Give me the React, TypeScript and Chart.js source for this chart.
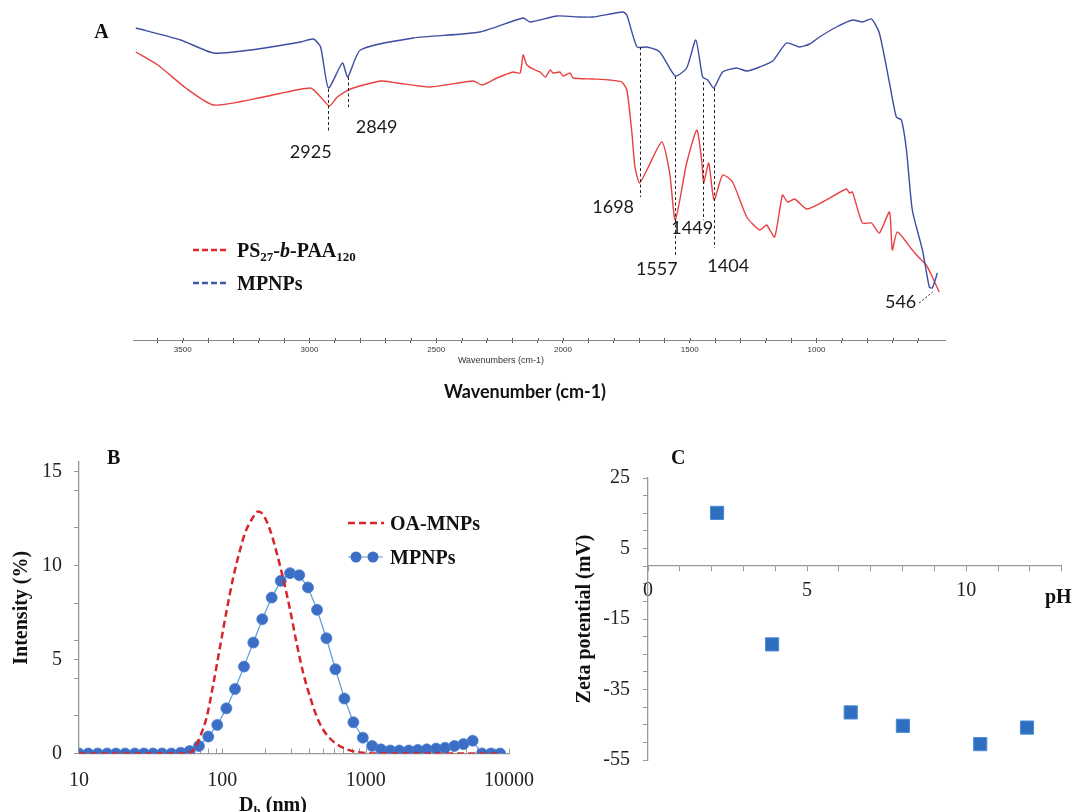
import React, { useEffect, useRef } from 'react';
import { Chart, registerables } from 'chart.js';

Chart.register(...registerables);

// ---------------- Panel A: FTIR spectra ----------------
const ftirMpnpWavenumber = [3685, 3508, 3378, 3232, 3035, 2984, 2956, 2925, 2870, 2849, 2799, 2590, 2327, 2157, 2130, 2023, 1933, 1882, 1764, 1748, 1708, 1669, 1618, 1557, 1512, 1476, 1449, 1429, 1405, 1370, 1315, 1275, 1224, 1173, 1118, 1067, 1027, 988, 921, 858, 819, 783, 752, 712, 685, 665, 645, 622, 582, 555, 543, 523];
const ftirMpnpTransmittance = [312, 300, 287, 290, 298, 301, 293, 252, 277, 263, 290, 302, 308, 322, 318, 324, 323, 323, 328, 325, 293, 293, 288, 264, 272, 300, 263, 260, 252, 268, 272, 269, 273, 279, 297, 293, 296, 303, 313, 320, 318, 321, 307, 257, 223, 220, 190, 130, 90, 53, 52, 67];

const ftirPolymerWavenumber = [3685, 3598, 3488, 3378, 3181, 2996, 2956, 2921, 2890, 2838, 2720, 2653, 2523, 2354, 2319, 2260, 2197, 2169, 2157, 2142, 2110, 2090, 2070, 2050, 2039, 2012, 2000, 1972, 1960, 1882, 1815, 1768, 1748, 1728, 1716, 1698, 1669, 1610, 1579, 1557, 1512, 1472, 1453, 1445, 1425, 1404, 1370, 1331, 1275, 1224, 1197, 1165, 1134, 1114, 1086, 1039, 976, 882, 870, 858, 819, 783, 752, 712, 701, 681, 622, 594, 567, 543, 516];
const ftirPolymerTransmittance = [288, 275, 252, 235, 243, 252, 243, 234, 243, 251, 259, 257, 253, 259, 255, 262, 268, 267, 285, 275, 270, 268, 263, 270, 267, 268, 264, 267, 262, 261, 260, 258, 250, 207, 173, 157, 170, 198, 167, 120, 177, 210, 180, 157, 177, 140, 165, 158, 123, 110, 115, 103, 145, 138, 141, 131, 138, 151, 147, 148, 117, 117, 107, 128, 90, 108, 90, 82, 75, 63, 48];

const ftirTickLabels = [3500, 3000, 2500, 2000, 1500, 1000];
const ftirPeakWavenumbers = [2925, 2849, 1698, 1557, 1449, 1404];
const ftirPeakLabels = ['2925', '2849', '1698', '1557', '1449', '1404'];
const ftirLeaderLabel = '546';

// ---------------- Panel B: DLS ----------------
const dlsMpnpSize = [10, 11.6, 13.5, 15.7, 18.1, 21, 24.5, 28.3, 32.8, 37.9, 44.1, 51.2, 59.1, 68.7, 79.8, 92.2, 106.7, 122.6, 141.6, 164.5, 190, 221, 255.6, 296.6, 344, 396, 458, 532, 615, 711, 821, 955, 1109, 1280, 1487, 1718, 1998, 2310, 2670, 3100, 3580, 4160, 4810, 5580, 6480, 7500, 8670];
const dlsMpnpIntensity = [0, 0, 0, 0, 0, 0, 0, 0, 0, 0, 0, 0.04, 0.13, 0.4, 0.9, 1.52, 2.4, 3.43, 4.62, 5.9, 7.14, 8.29, 9.18, 9.59, 9.48, 8.83, 7.64, 6.13, 4.48, 2.92, 1.66, 0.84, 0.4, 0.22, 0.16, 0.16, 0.16, 0.19, 0.22, 0.26, 0.3, 0.4, 0.5, 0.68, 0, 0, 0];

const dlsOaSize = [10, 30, 56, 62.8, 70, 77.9, 86.7, 96.4, 107.4, 119.5, 133, 144, 160, 178, 193, 215, 240, 267, 297, 330, 367, 409, 456, 507, 596, 738, 914, 1194, 3000, 8670];
const dlsOaIntensity = [0, 0, 0, 0.19, 0.9, 1.96, 3.73, 5.68, 7.64, 9.41, 10.83, 11.72, 12.43, 12.87, 12.69, 11.9, 10.65, 9.23, 7.64, 5.86, 4.27, 3.02, 1.96, 1.25, 0.63, 0.22, 0.06, 0, 0, 0];

const dlsTickLabels = [10, 100, 1000, 10000];

// ---------------- Panel C: Zeta potential ----------------
const zetaPH = [2.17, 3.9, 6.37, 8.01, 10.44, 11.91];
const zetaPotential = [15.1, -22.2, -41.5, -45.3, -50.5, -45.8];
const zetaXTickLabels = [0, 5, 10];
const zetaYTickLabels = [25, 5, -15, -35, -55];

// ---------------- helpers ----------------
type Seg = { t: string; sub?: boolean; it?: boolean };

function drawRich(
  ctx: CanvasRenderingContext2D,
  segs: Seg[],
  x: number,
  baseline: number,
  size: number,
  family: string,
  bold: boolean,
  align: 'left' | 'center' = 'left'
) {
  const fontFor = (s: Seg) =>
    `${s.it ? 'italic ' : ''}${bold ? 'bold ' : ''}${s.sub ? Math.round(size * 0.65) : size}px ${family}`;
  let total = 0;
  for (const s of segs) {
    ctx.font = fontFor(s);
    total += ctx.measureText(s.t).width;
  }
  let cx = align === 'center' ? x - total / 2 : x;
  ctx.textAlign = 'left';
  ctx.textBaseline = 'alphabetic';
  for (const s of segs) {
    ctx.font = fontFor(s);
    ctx.fillText(s.t, cx, s.sub ? baseline + size * 0.22 : baseline);
    cx += ctx.measureText(s.t).width;
  }
}

const SERIF = '"Liberation Serif", "Times New Roman", serif';
const SANS = '"Liberation Sans", Arial, sans-serif';

// annotation layout for panel A (in data units: wavenumber / transmittance)
const peakLayout = [
  { top: 251, bottom: 208, lx: 2995, ly: 188 },
  { top: 263, bottom: 233, lx: 2735, ly: 213 },
  { top: 293, bottom: 143, lx: 1802, ly: 133 },
  { top: 264, bottom: 85, lx: 1630, ly: 71 },
  { top: 258, bottom: 120, lx: 1490, ly: 112 },
  { top: 252, bottom: 92, lx: 1348, ly: 74 },
];

function buildA(): any {
  const minorTicks = Array.from({ length: 31 }, (_, i) => 600 + i * 100);
  const overlay = {
    id: 'ftirOverlay',
    afterDatasetsDraw(chart: any) {
      const { ctx } = chart;
      const x = chart.scales.x;
      const y = chart.scales.y;
      ctx.save();
      // small tick marks crossing the axis line (upper half)
      ctx.strokeStyle = '#555';
      ctx.lineWidth = 1;
      for (const v of minorTicks) {
        const px = Math.round(x.getPixelForValue(v)) + 0.5;
        ctx.beginPath();
        ctx.moveTo(px, chart.chartArea.bottom);
        ctx.lineTo(px, chart.chartArea.bottom - 2);
        ctx.stroke();
      }
      ctx.strokeStyle = '#222';
      ctx.setLineDash([3, 2.5]);
      ftirPeakWavenumbers.forEach((wn, i) => {
        const L = peakLayout[i];
        const px = Math.round(x.getPixelForValue(wn)) + 0.5;
        ctx.beginPath();
        ctx.moveTo(px, y.getPixelForValue(L.top));
        ctx.lineTo(px, y.getPixelForValue(L.bottom));
        ctx.stroke();
      });
      ctx.setLineDash([2, 2]);
      ctx.beginPath();
      ctx.moveTo(x.getPixelForValue(595), y.getPixelForValue(37));
      ctx.lineTo(x.getPixelForValue(542), y.getPixelForValue(48));
      ctx.stroke();
      ctx.setLineDash([]);

      ctx.fillStyle = '#1a1a1a';
      ctx.font = '18px Lato, "Open Sans", sans-serif';
      ctx.textAlign = 'center';
      ctx.textBaseline = 'middle';
      ftirPeakLabels.forEach((lab, i) => {
        const L = peakLayout[i];
        ctx.fillText(lab, x.getPixelForValue(L.lx), y.getPixelForValue(L.ly));
      });
      ctx.fillText(ftirLeaderLabel, x.getPixelForValue(668), y.getPixelForValue(38));

      // panel letter
      ctx.font = `bold 20px ${SERIF}`;
      ctx.fillStyle = '#111';
      ctx.fillText('A', 101.5, 33);

      // legend
      ctx.lineWidth = 2.5;
      ctx.setLineDash([6, 3]);
      ctx.strokeStyle = '#e0262c';
      ctx.beginPath();
      ctx.moveTo(193, 250);
      ctx.lineTo(229, 250);
      ctx.stroke();
      ctx.strokeStyle = '#3b5ba8';
      ctx.beginPath();
      ctx.moveTo(193, 283);
      ctx.lineTo(229, 283);
      ctx.stroke();
      ctx.setLineDash([]);
      ctx.fillStyle = '#111';
      drawRich(ctx, [{ t: 'PS' }, { t: '27', sub: true }, { t: '-' }, { t: 'b', it: true }, { t: '-PAA' }, { t: '120', sub: true }], 237, 257, 20, SERIF, true);
      drawRich(ctx, [{ t: 'MPNPs' }], 237, 290, 20, SERIF, true);

      // axis titles
      ctx.fillStyle = '#333';
      ctx.font = `9px ${SANS}`;
      ctx.textAlign = 'center';
      ctx.textBaseline = 'middle';
      ctx.fillText('Wavenumbers (cm-1)', 501, 361);
      ctx.fillStyle = '#111';
      ctx.font = 'bold 18px Lato, "Open Sans", sans-serif';
      ctx.fillText('Wavenumber (cm-1)', 525, 392);
      ctx.restore();
    },
  };
  return {
    type: 'line',
    data: {
      datasets: [
        {
          label: 'MPNPs',
          data: ftirMpnpWavenumber.map((w, i) => ({ x: w, y: ftirMpnpTransmittance[i] })),
          borderColor: '#3d4da3',
          borderWidth: 1.4,
          pointRadius: 0,
          tension: 0.2,
        },
        {
          label: 'PS27-b-PAA120',
          data: ftirPolymerWavenumber.map((w, i) => ({ x: w, y: ftirPolymerTransmittance[i] })),
          borderColor: '#e8413f',
          borderWidth: 1.4,
          pointRadius: 0,
          tension: 0.2,
        },
      ],
    },
    options: {
      responsive: false,
      animation: false,
      events: [],
      layout: { padding: { left: 133, right: 127, top: 0, bottom: 47 } },
      plugins: { legend: { display: false }, tooltip: { enabled: false } },
      scales: {
        x: {
          type: 'linear',
          reverse: true,
          min: 493,
          max: 3696,
          afterBuildTicks: (s: any) => {
            s.ticks = minorTicks.map((v) => ({ value: v }));
          },
          afterFit: (s: any) => {
            s.height = 23;
            s.paddingLeft = 0;
            s.paddingRight = 0;
          },
          ticks: {
            autoSkip: false,
            maxRotation: 0,
            padding: 2,
            color: '#333',
            font: { family: SANS, size: 8 },
            callback: (v: any) => (ftirTickLabels.includes(v) ? String(v) : ''),
          },
          grid: { drawOnChartArea: false, tickLength: 3, color: '#555' },
          border: { color: '#888' },
        },
        y: { display: false, min: 0, max: 340 },
      },
    },
    plugins: [overlay],
  };
}

function buildB(): any {
  const allTicks: number[] = [];
  for (const d of [10, 100, 1000]) for (let k = 1; k <= 9; k++) allTicks.push(d * k);
  allTicks.push(10000);
  const overlay = {
    id: 'dlsOverlay',
    beforeDatasetsDraw(chart: any) {
      const { ctx, chartArea } = chart;
      const x = chart.scales.x;
      ctx.save();
      ctx.strokeStyle = '#999';
      ctx.lineWidth = 1;
      for (const v of allTicks) {
        const px = Math.round(x.getPixelForValue(v)) + 0.5;
        ctx.beginPath();
        ctx.moveTo(px, chartArea.bottom);
        ctx.lineTo(px, chartArea.bottom - 5);
        ctx.stroke();
      }
      ctx.restore();
    },
    afterDraw(chart: any) {
      const { ctx } = chart;
      ctx.save();
      // legend
      ctx.strokeStyle = '#d7262b';
      ctx.lineWidth = 2.5;
      ctx.setLineDash([7, 4]);
      ctx.beginPath();
      ctx.moveTo(348, 103);
      ctx.lineTo(384, 103);
      ctx.stroke();
      ctx.setLineDash([]);
      ctx.strokeStyle = '#5b9bd5';
      ctx.lineWidth = 1.2;
      ctx.beginPath();
      ctx.moveTo(348, 137);
      ctx.lineTo(383, 137);
      ctx.stroke();
      ctx.fillStyle = '#3c6ec5';
      for (const cx of [356, 373]) {
        ctx.beginPath();
        ctx.arc(cx, 137, 5.5, 0, Math.PI * 2);
        ctx.fill();
      }
      ctx.fillStyle = '#111';
      drawRich(ctx, [{ t: 'OA-MNPs' }], 390, 110, 20, SERIF, true);
      drawRich(ctx, [{ t: 'MPNPs' }], 390, 144, 20, SERIF, true);
      drawRich(ctx, [{ t: 'B' }], 107, 44, 20, SERIF, true);
      drawRich(ctx, [{ t: 'D' }, { t: 'h', sub: true }, { t: ' (nm)' }], 273, 390.5, 20, SERIF, true, 'center');
      ctx.restore();
    },
  };
  return {
    type: 'line',
    data: {
      datasets: [
        {
          label: 'OA-MNPs',
          data: dlsOaSize.map((s, i) => ({ x: s, y: dlsOaIntensity[i] })),
          borderColor: '#d7262b',
          borderWidth: 2.5,
          borderDash: [7, 4],
          pointRadius: 0,
          cubicInterpolationMode: 'monotone',
        },
        {
          label: 'MPNPs',
          data: dlsMpnpSize.map((s, i) => ({ x: s, y: dlsMpnpIntensity[i] })),
          borderColor: '#5b9bd5',
          borderWidth: 1.2,
          pointRadius: 5.5,
          pointBackgroundColor: '#3c6ec5',
          pointBorderColor: '#4a7fd0',
          pointBorderWidth: 0.8,
          tension: 0,
        },
      ],
    },
    options: {
      responsive: false,
      animation: false,
      events: [],
      layout: { padding: { left: 0, right: 51, top: 42, bottom: 0 } },
      plugins: { legend: { display: false }, tooltip: { enabled: false } },
      scales: {
        x: {
          type: 'logarithmic',
          min: 10,
          max: 10000,
          afterBuildTicks: (s: any) => {
            s.ticks = allTicks.map((v) => ({ value: v }));
          },
          afterFit: (s: any) => {
            s.height = 58.5;
            s.paddingLeft = 0;
            s.paddingRight = 0;
          },
          ticks: {
            autoSkip: false,
            maxRotation: 0,
            padding: 15.5,
            color: '#222',
            font: { family: SERIF, size: 20 },
            callback: (v: any) => (dlsTickLabels.includes(v) ? String(v) : ''),
          },
          grid: { drawOnChartArea: false, drawTicks: false },
          border: { color: '#999', width: 1.3 },
        },
        y: {
          min: 0,
          max: 15.5,
          afterBuildTicks: (s: any) => {
            s.ticks = [0, 2, 4, 5, 6, 8, 10, 12, 14, 15].map((v) => ({ value: v }));
          },
          afterFit: (s: any) => {
            s.width = 79;
            s.paddingTop = 0;
            s.paddingBottom = 0;
          },
          ticks: {
            padding: 12,
            color: '#222',
            font: { family: SERIF, size: 20 },
            callback: (v: any) => (v % 5 === 0 ? String(v) : ''),
          },
          grid: { drawOnChartArea: false, tickLength: 5, color: '#999' },
          border: { color: '#999', width: 1.3 },
          title: {
            display: true,
            text: 'Intensity (%)',
            color: '#111',
            font: { family: SERIF, size: 20, weight: 'bold' },
            padding: { top: 10, bottom: 0 },
          },
        },
      },
    },
    plugins: [overlay],
  };
}

function buildC(): any {
  const overlay = {
    id: 'zetaOverlay',
    afterDraw(chart: any) {
      const { ctx } = chart;
      ctx.save();
      ctx.fillStyle = '#111';
      drawRich(ctx, [{ t: 'C' }], 111, 44, 20, SERIF, true);
      drawRich(ctx, [{ t: 'pH' }], 485, 183, 20, SERIF, true);
      ctx.restore();
    },
  };
  return {
    type: 'scatter',
    data: {
      datasets: [
        {
          label: 'Zeta potential',
          data: zetaPH.map((p, i) => ({ x: p, y: zetaPotential[i] })),
          pointStyle: 'rect',
          pointRadius: 9.3,
          backgroundColor: '#2e6fc0',
          borderColor: '#4d8bd6',
          borderWidth: 1,
        },
      ],
    },
    options: {
      responsive: false,
      animation: false,
      events: [],
      layout: { padding: { left: 0, right: 10, top: 58, bottom: 52 } },
      plugins: { legend: { display: false }, tooltip: { enabled: false } },
      scales: {
        x: {
          type: 'linear',
          position: { y: 0 },
          min: 0,
          max: 13,
          afterFit: (s: any) => {
            s.paddingLeft = 0;
            s.paddingRight = 0;
          },
          ticks: {
            stepSize: 1,
            autoSkip: false,
            maxRotation: 0,
            padding: 8,
            color: '#222',
            font: { family: SERIF, size: 20 },
            callback: (v: any) => (zetaXTickLabels.includes(v) ? String(v) : ''),
          },
          grid: { drawOnChartArea: false, tickLength: 5, color: '#999' },
          border: { color: '#999', width: 1.3 },
        },
        y: {
          min: -55,
          max: 25,
          afterFit: (s: any) => {
            s.width = 88;
            s.paddingTop = 0;
            s.paddingBottom = 0;
          },
          ticks: {
            stepSize: 5,
            autoSkip: false,
            padding: 13,
            color: '#222',
            font: { family: SERIF, size: 20 },
            callback: (v: any) => (zetaYTickLabels.includes(v) ? String(v) : ''),
          },
          grid: { drawOnChartArea: false, tickLength: 5, color: '#999' },
          border: { color: '#999', width: 1.3 },
          title: {
            display: true,
            text: 'Zeta potential (mV)',
            color: '#111',
            font: { family: SERIF, size: 20, weight: 'bold' },
            padding: { top: 13, bottom: 0 },
          },
        },
      },
    },
    plugins: [overlay],
  };
}

const Panel: React.FC<{ left: number; top: number; width: number; height: number; build: () => any }> = ({
  left,
  top,
  width,
  height,
  build,
}) => {
  const ref = useRef<HTMLCanvasElement>(null);
  useEffect(() => {
    const chart = new Chart(ref.current as HTMLCanvasElement, build());
    return () => chart.destroy();
  }, []);
  return (
    <canvas
      ref={ref}
      width={width}
      height={height}
      style={{ position: 'absolute', left, top, width, height, display: 'block' }}
    />
  );
};

export default function App() {
  return (
    <div style={{ position: 'absolute', left: 0, top: 0, width: 1072, height: 812, overflow: 'hidden', background: '#fff' }}>
      <Panel left={0} top={0} width={1072} height={410} build={buildA} />
      <Panel left={0} top={420} width={560} height={392} build={buildB} />
      <Panel left={560} top={420} width={512} height={392} build={buildC} />
    </div>
  );
}
